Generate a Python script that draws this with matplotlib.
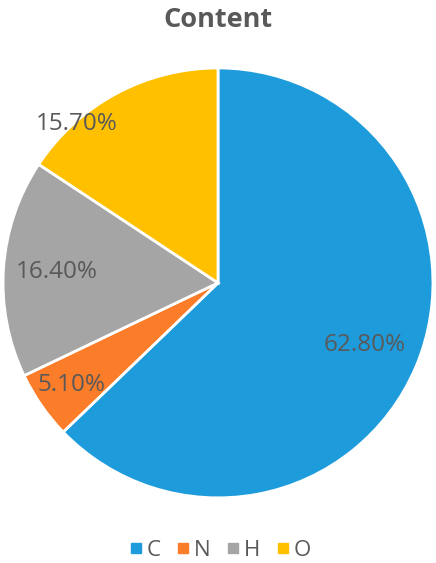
import numpy as np
import matplotlib
matplotlib.use("Agg")
import matplotlib.pyplot as plt
from matplotlib.lines import Line2D

plt.rcParams['font.family'] = ['Open Sans', 'DejaVu Sans']

labels = ['C', 'N', 'H', 'O']
values = [62.8, 5.1, 16.4, 15.7]
colors = ['#1E9BDB', '#FB7D29', '#A5A5A5', '#FFC000']
txt = '#595959'

fig = plt.figure(figsize=(4.36, 5.63), dpi=100)
ax = fig.add_axes([0.007, 0.1155, 0.986, 0.764])

wedges, _ = ax.pie(values, colors=colors, startangle=90, counterclock=False,
                   wedgeprops=dict(edgecolor='white', linewidth=2))
ax.set_aspect('equal')
ax.set_xlim(-1, 1)
ax.set_ylim(-1, 1)

# label radius / angle tweaks (Excel best-fit placement)
dist = [0.74, 0.83, 0.75, 0.99]
ang_shift = [0, 0, 0, 13.5]
for w, v, d, s in zip(wedges, values, dist, ang_shift):
    a = np.deg2rad((w.theta1 + w.theta2) / 2 + s)
    ax.text(d * np.cos(a), d * np.sin(a), f'{v:.2f}%', ha='center', va='center',
            fontsize=17.5, color=txt)

fig.text(0.5, 0.965, 'Content', ha='center', va='center', fontsize=19.5,
         fontweight='bold', color=txt)

handles = [Line2D([], [], marker='s', linestyle='', markersize=7,
                  markerfacecolor=c, markeredgecolor=c) for c in colors]
fig.legend(handles, labels, loc='center', bbox_to_anchor=(0.5, 0.022),
           ncol=4, frameon=False, fontsize=16, labelcolor=txt,
           handletextpad=0.0, columnspacing=0.5, handlelength=1.0)

fig.savefig('out.png', dpi=100)
